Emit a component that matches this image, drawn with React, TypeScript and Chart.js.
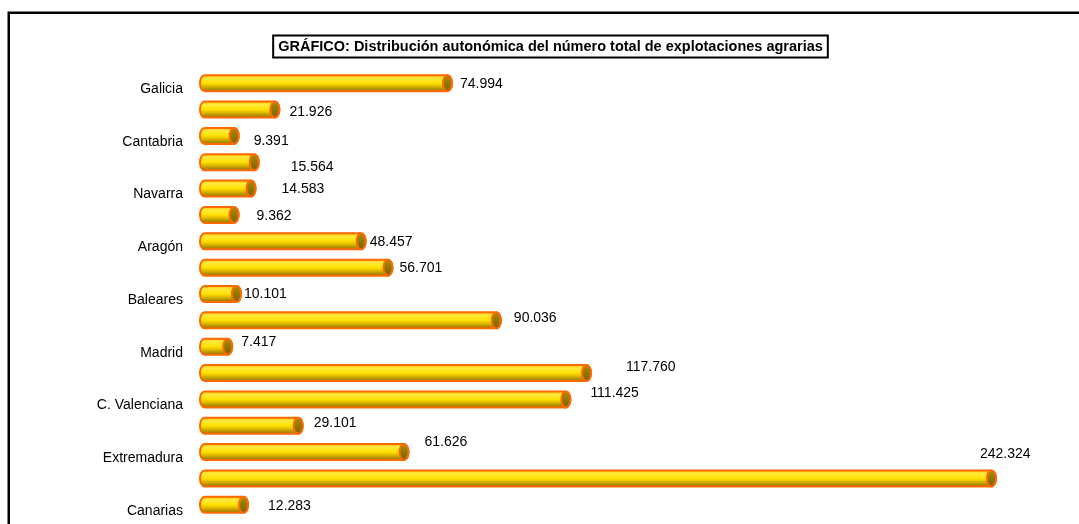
import React, { useEffect, useRef } from "react";
import { Chart, registerables } from "chart.js";

Chart.register(...registerables);

const categories = [
  "Galicia",
  "Asturias",
  "Cantabria",
  "País Vasco",
  "Navarra",
  "La Rioja",
  "Aragón",
  "Cataluña",
  "Baleares",
  "Castilla y León",
  "Madrid",
  "Castilla-La Mancha",
  "C. Valenciana",
  "Murcia",
  "Extremadura",
  "Andalucía",
  "Canarias",
];

const explotaciones = [
  74994, 21926, 9391, 15564, 14583, 9362, 48457, 56701, 10101, 90036, 7417,
  117760, 111425, 29101, 61626, 242324, 12283,
];

const titleText =
  "GRÁFICO: Distribución autonómica del número total de explotaciones agrarias";

// label placement offsets (pixels, relative to bar end / bar centre), as in the original
const labelDx = [8, 10, 15, 32, 26, 18, 4, 7, 3, 13, 9, 35, 20, 11, 16, -16, 20];
const labelDy = [1, 2.5, 5, 5, 0.5, 1, 0.5, 0.5, 0, -2.5, -5, -6, -6.5, -3, -10, -24.5, 1];

const FONT = "Arial, 'Liberation Sans', sans-serif";

function fmt(v: number): string {
  const s = String(Math.round(v));
  return s.replace(/\B(?=(\d{3})+(?!\d))/g, ".");
}

const cylinderPlugin = {
  id: "cylinders",
  afterDatasetsDraw(chart: any) {
    const ctx = chart.ctx as CanvasRenderingContext2D;
    const meta = chart.getDatasetMeta(0);
    meta.data.forEach((bar: any, i: number) => {
      const p = bar.getProps(["x", "y", "base", "height"], true);
      const left = p.base;
      const right = p.x;
      const h = p.height;
      const y = p.y;
      const top = y - h / 2;
      const bottom = y + h / 2;
      const rx = 4.5;
      const ry = h / 2;
      ctx.save();
      const g = ctx.createLinearGradient(0, top, 0, bottom);
      g.addColorStop(0, "#FFC000");
      g.addColorStop(0.18, "#FFEA40");
      g.addColorStop(0.5, "#FFE000");
      g.addColorStop(0.72, "#D8B200");
      g.addColorStop(1, "#8C7000");
      ctx.beginPath();
      ctx.moveTo(left + rx, top);
      ctx.lineTo(right - rx, top);
      ctx.ellipse(right - rx, y, rx, ry, 0, -Math.PI / 2, Math.PI / 2, false);
      ctx.lineTo(left + rx, bottom);
      ctx.ellipse(left + rx, y, rx, ry, 0, Math.PI / 2, (3 * Math.PI) / 2, false);
      ctx.closePath();
      ctx.fillStyle = g;
      ctx.fill();
      ctx.lineWidth = 2;
      ctx.strokeStyle = "#FF6A00";
      ctx.stroke();
      // end cap
      const cg = ctx.createLinearGradient(0, top, 0, bottom);
      cg.addColorStop(0, "#A88C00");
      cg.addColorStop(1, "#7A6400");
      ctx.beginPath();
      ctx.ellipse(right - rx, y, rx, ry, 0, 0, Math.PI * 2);
      ctx.fillStyle = cg;
      ctx.fill();
      ctx.lineWidth = 2;
      ctx.strokeStyle = "#FF6A00";
      ctx.stroke();
      // value label
      ctx.fillStyle = "#000";
      ctx.font = `14px ${FONT}`;
      ctx.textAlign = "left";
      ctx.textBaseline = "middle";
      ctx.fillText(fmt(explotaciones[i]), right + labelDx[i], y + labelDy[i]);
      ctx.restore();
    });
  },
};

const framePlugin = {
  id: "frameAndTitle",
  afterDraw(chart: any) {
    const ctx = chart.ctx as CanvasRenderingContext2D;
    ctx.save();
    // outer frame (extends beyond the visible area)
    ctx.strokeStyle = "#000";
    ctx.lineWidth = 2.5;
    ctx.beginPath();
    ctx.moveTo(8.75, 600);
    ctx.lineTo(8.75, 12.75);
    ctx.lineTo(1200, 12.75);
    ctx.stroke();
    // title box
    ctx.font = `bold 14.5px ${FONT}`;
    ctx.textAlign = "center";
    ctx.textBaseline = "middle";
    const w = ctx.measureText(titleText).width;
    const cx = 550.5;
    const cy = 46.5;
    const bw = w + 10;
    const bh = 22;
    ctx.fillStyle = "#fff";
    ctx.fillRect(cx - bw / 2, cy - bh / 2, bw, bh);
    ctx.lineWidth = 2;
    ctx.strokeRect(cx - bw / 2, cy - bh / 2, bw, bh);
    ctx.fillStyle = "#000";
    ctx.fillText(titleText, cx, cy + 0.5);
    ctx.restore();
  },
};

export default function App() {
  const ref = useRef<HTMLCanvasElement | null>(null);

  useEffect(() => {
    if (!ref.current) return;
    const chart = new Chart(ref.current, {
      type: "bar",
      data: {
        labels: categories,
        datasets: [
          {
            data: explotaciones,
            base: -2500,
            backgroundColor: "rgba(0,0,0,0)",
            borderWidth: 0,
            barThickness: 16,
          } as any,
        ],
      },
      options: {
        indexAxis: "y",
        responsive: false,
        animation: false,
        devicePixelRatio: 1,
        layout: { padding: { top: 70, bottom: 6, left: 0, right: 25.6 } },
        plugins: {
          legend: { display: false },
          tooltip: { enabled: false },
          title: { display: false },
        },
        scales: {
          x: {
            display: false,
            min: -2500,
            max: 260000,
          },
          y: {
            grid: { display: false, drawTicks: true, tickLength: 17 },
            border: { display: false },
            afterFit: (scale: any) => {
              scale.width = 200;
              scale.paddingTop = 0;
              scale.paddingBottom = 0;
            },
            ticks: {
              autoSkip: false,
              padding: 0,
              labelOffset: 6,
              color: "#000",
              font: { family: FONT, size: 14 },
              callback: (_v: any, idx: number) => (idx % 2 === 0 ? categories[idx] : ""),
            },
          },
        },
      },
      plugins: [cylinderPlugin, framePlugin],
    });
    return () => chart.destroy();
  }, []);

  return (
    <div
      style={{
        position: "fixed",
        left: 0,
        top: 0,
        width: 1079,
        height: 524,
        background: "#fff",
        overflow: "hidden",
      }}
    >
      <canvas ref={ref} width={1079} height={524} style={{ display: "block" }} />
    </div>
  );
}
